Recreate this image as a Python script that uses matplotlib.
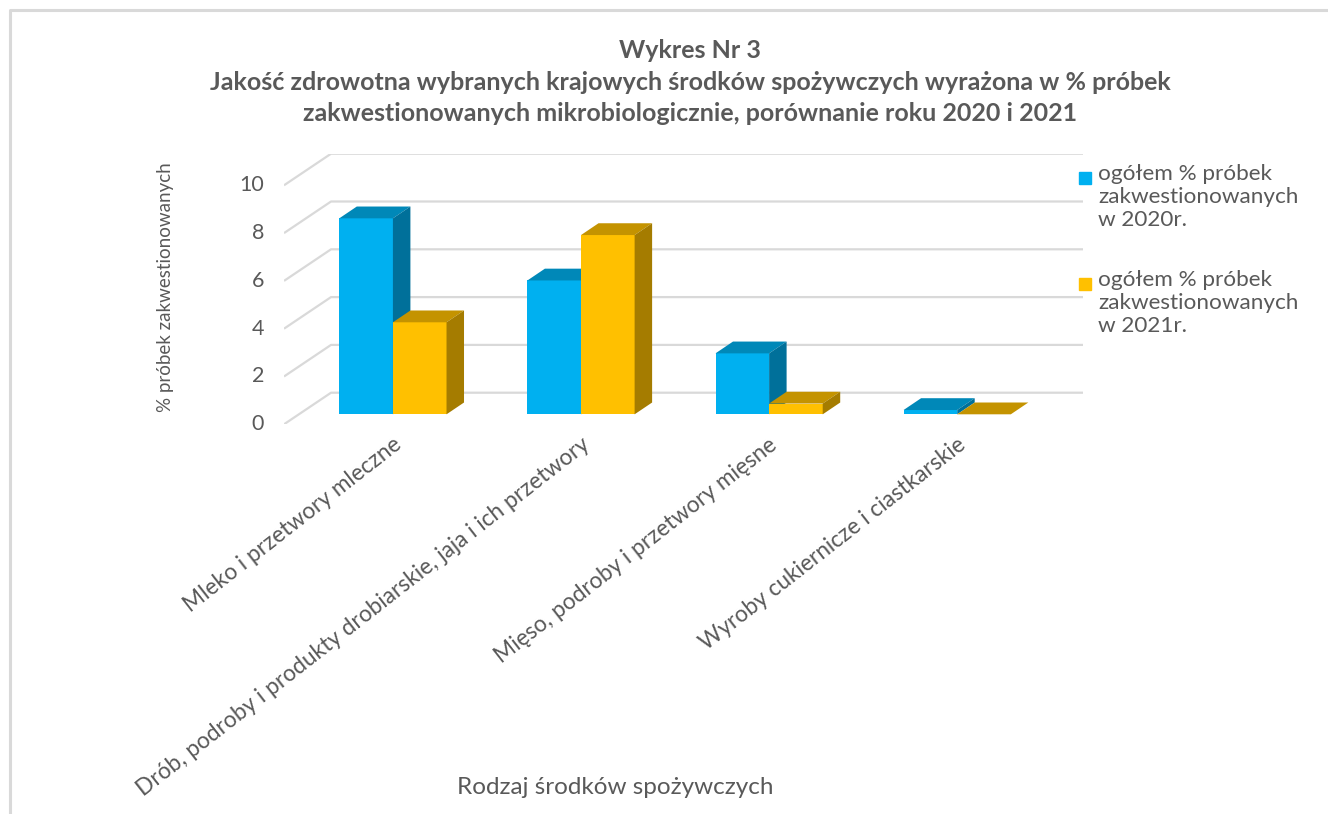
import matplotlib
matplotlib.use("Agg")
import matplotlib.pyplot as plt
from matplotlib.lines import Line2D

plt.rcParams['font.family'] = ['Lato', 'DejaVu Sans']

# data
categories = ["Mleko i przetwory mleczne",
              "Drób, podroby i produkty drobiarskie, jaja i ich przetwory",
              "Mięso, podroby i przetwory mięsne",
              "Wyroby cukiernicze i ciastkarskie"]
series_names = ["ogółem % próbek\nzakwestionowanych\nw 2020r.",
                "ogółem % próbek\nzakwestionowanych\nw 2021r."]
values_2020 = [8.2, 5.6, 2.55, 0.18]
values_2021 = [3.85, 7.5, 0.45, 0.0]
yticks_vals = [0, 2, 4, 6, 8, 10]

title = ("Wykres Nr 3\nJakość zdrowotna wybranych krajowych środków spożywczych wyrażona w % próbek\n"
         "zakwestionowanych mikrobiologicznie, porównanie roku 2020 i 2021")
ylabel = "% próbek zakwestionowanych"
xlabel = "Rodzaj środków spożywczych"

# colours: front, top, side
blue = ('#00B0F0', '#0088B8', '#00709A')
yellow = ('#FFC000', '#C49300', '#A57C00')
grid_c = '#D9D9D9'
text_c = '#595959'

# geometry (pixels)
W, H = 1328, 814
px_x = 188.1          # px per category
px_y = 23.9           # px per unit value
x0_px, y0_px = 284, 424.3
wall_dx, wall_dy = 0.25, 1.322     # back wall offset (data units)
fr_dx, fr_dy = 0.079, 0.418        # bar front offset
d_dx, d_dy = 0.093, 0.494          # bar depth
bw = 0.285                         # bar width

xmax = 4 + wall_dx
ymax = 10 + wall_dy

fig = plt.figure(figsize=(W / 100, H / 100), dpi=100)
ax = fig.add_axes([x0_px / W, (H - y0_px) / H, xmax * px_x / W, ymax * px_y / H])
ax.set_xlim(0, xmax)
ax.set_ylim(0, ymax)
ax.axis('off')

# gridlines: floor diagonal + back wall
for v in yticks_vals:
    ax.plot([0, wall_dx, xmax], [v, v + wall_dy, v + wall_dy], color=grid_c, lw=1.6,
            solid_capstyle='butt', zorder=1)
    ax.text(-0.105, v, str(v), ha='right', va='center', fontsize=15.5, color=text_c)


def bar3d(x, v, cols):
    y0, y1 = fr_dy, fr_dy + v
    ax.fill([x, x + bw, x + bw, x], [y0, y0, y1, y1], color=cols[0], lw=0, zorder=3)
    ax.fill([x, x + bw, x + bw + d_dx, x + d_dx], [y1, y1, y1 + d_dy, y1 + d_dy],
            color=cols[1], lw=0, zorder=3)
    ax.fill([x + bw, x + bw, x + bw + d_dx, x + bw + d_dx], [y0, y1, y1 + d_dy, y0 + d_dy],
            color=cols[2], lw=0, zorder=3)


for i in range(len(categories)):
    c = i + 0.5 + fr_dx
    bar3d(c - bw, values_2020[i], blue)
    bar3d(c, values_2021[i], yellow)
    ax.text(i + 0.5 + 0.075, -0.4, categories[i], rotation=38, rotation_mode='anchor',
            ha='right', va='top', fontsize=16.3, color=text_c)

# legend
for k, (name, cols) in enumerate(zip(series_names, [blue, yellow])):
    yy = H - 178 - k * 106
    fig.patches.append(plt.Rectangle((1079 / W, (yy - 6) / H), 12 / W, 12 / H,
                                     transform=fig.transFigure, color=cols[0]))
    fig.text(1098 / W, (yy + 14) / H, name, ha='left', va='top', fontsize=16.2,
             color=text_c, linespacing=1.2)

fig.text(690 / W, (H - 39) / H, title, ha='center', va='top', fontsize=18,
         fontweight='bold', color=text_c, linespacing=1.45)
fig.text(165 / W, (H - 287) / H, ylabel, rotation=90, ha='center', va='center',
         fontsize=13.5, color=text_c)
fig.text(615 / W, (H - 787) / H, xlabel, ha='center', va='center', fontsize=17.5,
         color=text_c)

# outer frame
fig.lines.append(Line2D([10 / W, 10 / W, 1], [0, (H - 10) / H, (H - 10) / H],
                        transform=fig.transFigure, color=grid_c, lw=2.2))

fig.savefig("out.png", dpi=100, facecolor='white')
